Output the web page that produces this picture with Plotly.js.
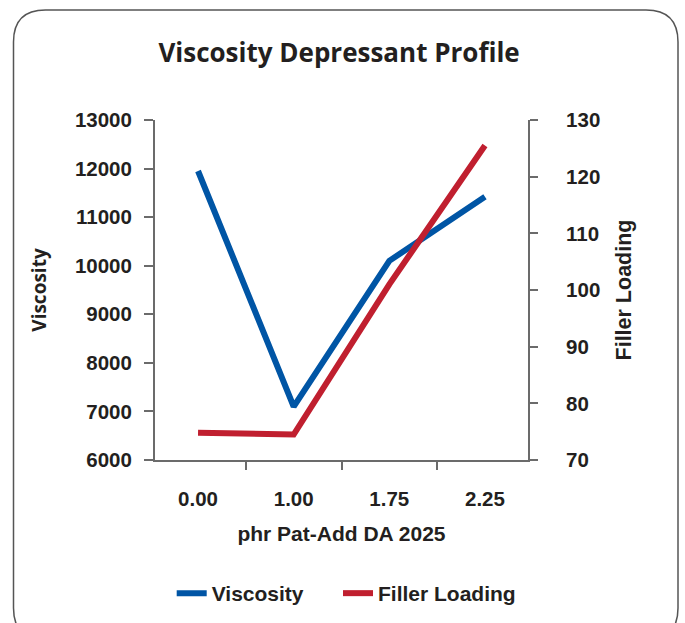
<!DOCTYPE html>
<html>
<head>
<meta charset="utf-8">
<script src="https://cdn.plot.ly/plotly-3.0.1.min.js"></script>
<style>html,body{margin:0;padding:0;background:#fff;}#chart{width:685px;height:623px;}</style>
</head>
<body>
<div id="chart"></div>
<script>
var categories = ["0.00", "1.00", "1.75", "2.25"];
var viscosity = [11950, 7100, 10100, 11420];
var fillerLoading = [74.8, 74.5, 101, 125.5];
var seriesNames = ["Viscosity", "Filler Loading"];
var chartTitle = "Viscosity Depressant Profile";
var xTitle = "phr Pat-Add DA 2025";
var yTitle = "Viscosity";
var y2Title = "Filler Loading";

var W = 685, H = 623;
var L = 155, R = 528, T = 120, B = 460;
function px(x) { return (x - L) / (R - L); }
function py(y) { return (B - y) / (B - T); }

// rounded frame
var fx0 = 13.5, fx1 = 678, fy0 = 10, fy1 = 640, rad = 32;
var path = "M " + px(fx0) + "," + py(fy0 + rad) +
  " Q " + px(fx0) + "," + py(fy0) + " " + px(fx0 + rad) + "," + py(fy0) +
  " L " + px(fx1 - rad) + "," + py(fy0) +
  " Q " + px(fx1) + "," + py(fy0) + " " + px(fx1) + "," + py(fy0 + rad) +
  " L " + px(fx1) + "," + py(fy1 - rad) +
  " Q " + px(fx1) + "," + py(fy1) + " " + px(fx1 - rad) + "," + py(fy1) +
  " L " + px(fx0 + rad) + "," + py(fy1) +
  " Q " + px(fx0) + "," + py(fy1) + " " + px(fx0) + "," + py(fy1 - rad) + " Z";

var arial = "Liberation Sans, Arial, sans-serif";
var sans = "Open Sans, Noto Sans, sans-serif";
var txt = "#231f20";
var axc = "#6b6b6b";

var data = [
  {x: categories, y: viscosity, name: seriesNames[0], type: "scatter", mode: "lines",
   line: {color: "#0055a5", width: 6}, yaxis: "y", hoverinfo: "skip", legend: "legend"},
  {x: categories, y: fillerLoading, name: seriesNames[1], type: "scatter", mode: "lines",
   line: {color: "#c01f2f", width: 6}, yaxis: "y2", hoverinfo: "skip", legend: "legend2"}
];

var legFont = {family: arial, size: 21, color: txt, weight: "bold"};
var tickFont = {family: arial, size: 20.5, color: txt, weight: "bold"};
var layout = {
  width: W, height: H,
  margin: {l: L, r: W - R, t: T, b: H - B, pad: 0, autoexpand: false},
  paper_bgcolor: "#fff", plot_bgcolor: "rgba(0,0,0,0)",
  showlegend: true,
  title: {text: "<b>" + chartTitle + "</b>", font: {family: sans, size: 26, color: txt},
          x: 338 / W, xanchor: "center", y: 1 - 53 / H, yanchor: "middle", xref: "paper", yref: "container"},
  xaxis: {type: "category", range: [-0.45, 3.45], tickson: "boundaries", ticks: "outside", ticklen: 8,
          tickwidth: 2, tickcolor: axc, showline: true, linecolor: axc, linewidth: 2,
          showgrid: false, zeroline: false, ticklabelstandoff: 19,
          tickfont: tickFont,
          title: {text: "<b>" + xTitle + "</b>", font: {family: arial, size: 21, color: txt}, standoff: 18}},
  yaxis: {range: [6000, 13000], dtick: 1000, tickformat: "d", ticks: "outside", ticklen: 9, tickwidth: 2, tickcolor: axc,
          showline: true, linecolor: axc, linewidth: 2, showgrid: false, zeroline: false,
          ticklabelstandoff: 8,
          tickfont: tickFont,
          title: {text: "<b>" + yTitle + "</b>", font: {family: sans, size: 19, color: txt}, standoff: 23}},
  yaxis2: {range: [70, 130], dtick: 10, tickformat: "d", overlaying: "y", side: "right", ticks: "outside", ticklen: 8,
           tickwidth: 2, tickcolor: axc, showline: true, linecolor: axc, linewidth: 2, showgrid: false,
           zeroline: false, ticklabelstandoff: 24,
           tickfont: tickFont,
           title: {text: "<b>" + y2Title + "</b>", font: {family: arial, size: 21.5, color: txt}, standoff: 17}},
  legend: {orientation: "h", x: px(171.7), xanchor: "left", y: py(573), yanchor: "top",
           font: legFont, bgcolor: "rgba(0,0,0,0)", borderwidth: 0},
  legend2: {orientation: "h", x: px(338), xanchor: "left", y: py(573), yanchor: "top",
           font: legFont, bgcolor: "rgba(0,0,0,0)", borderwidth: 0},
  shapes: [{type: "path", xref: "paper", yref: "paper", path: path,
            line: {color: "#555", width: 1.5}, fillcolor: "rgba(0,0,0,0)", layer: "below"}]
};

Plotly.newPlot("chart", data, layout, {staticPlot: true, displayModeBar: false});
</script>
</body>
</html>
